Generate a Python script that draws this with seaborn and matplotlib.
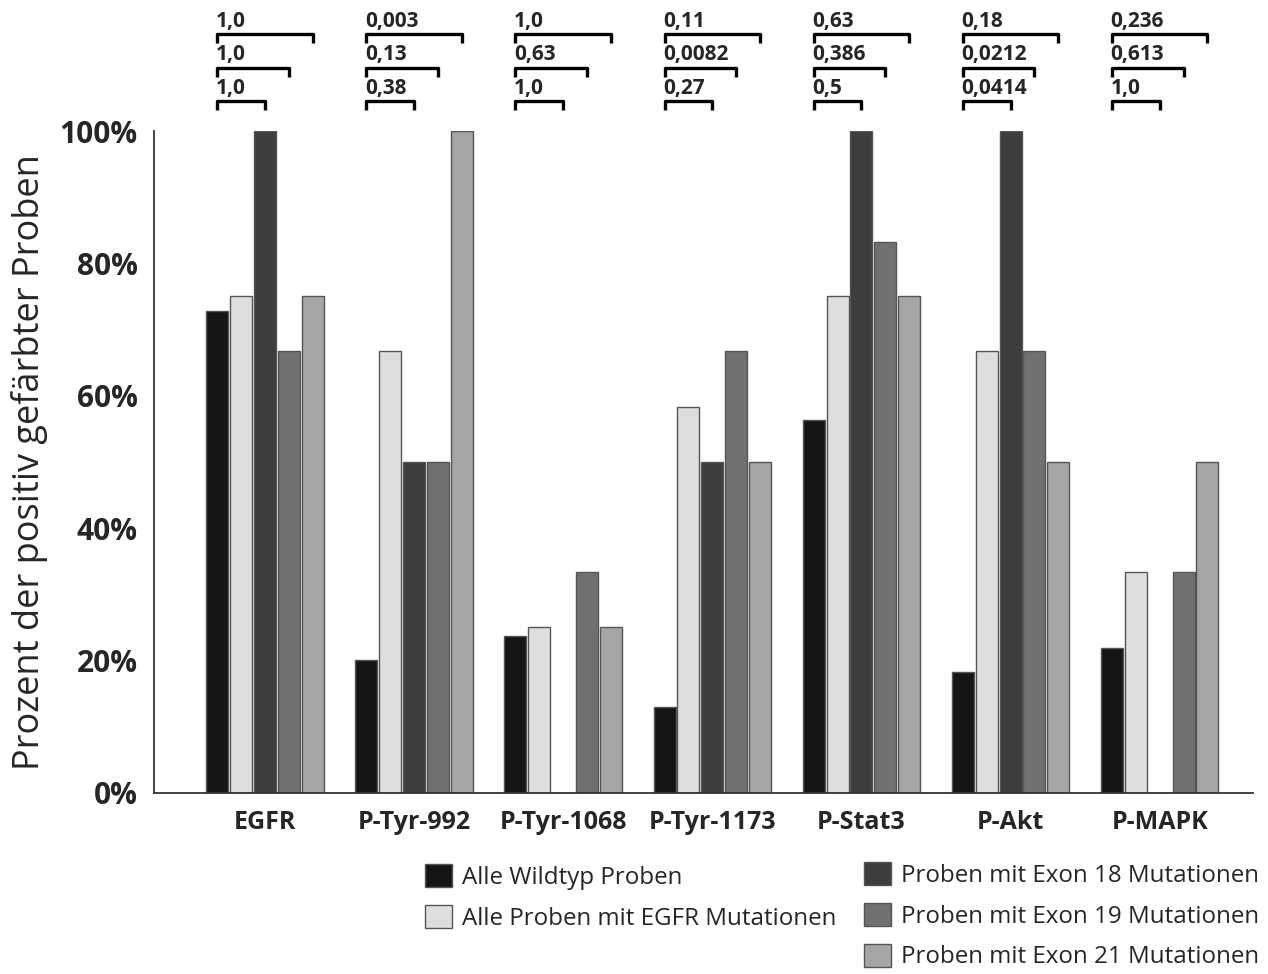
import numpy as np
import pandas as pd
import matplotlib
matplotlib.use("Agg")
import matplotlib.pyplot as plt
import seaborn as sns

# Daten
MARKER = ["EGFR", "P-Tyr-992", "P-Tyr-1068", "P-Tyr-1173", "P-Stat3", "P-Akt", "P-MAPK"]
GRUPPEN = [
    "Alle Wildtyp Proben",
    "Alle Proben mit EGFR Mutationen",
    "Proben mit Exon 18 Mutationen",
    "Proben mit Exon 19 Mutationen",
    "Proben mit Exon 21 Mutationen",
]
wildtyp = [72.8, 20.1, 23.7, 13.0, 56.3, 18.3, 21.9]
egfr_mut = [75.0, 66.7, 25.0, 58.3, 75.0, 66.7, 33.3]
exon18 = [100.0, 50.0, 0.0, 50.0, 100.0, 100.0, 0.0]
exon19 = [66.7, 50.0, 33.3, 66.7, 83.3, 66.7, 33.3]
exon21 = [75.0, 100.0, 25.0, 50.0, 75.0, 50.0, 50.0]

# p-Werte: Wildtyp vs. Exon 21 / Exon 19 / Exon 18
p_exon21 = ["1,0", "0,003", "1,0", "0,11", "0,63", "0,18", "0,236"]
p_exon19 = ["1,0", "0,13", "0,63", "0,0082", "0,386", "0,0212", "0,613"]
p_exon18 = ["1,0", "0,38", "1,0", "0,27", "0,5", "0,0414", "1,0"]

FARBEN = ["#151515", "#dedede", "#3d3d3d", "#707070", "#a5a5a5"]

serien = [wildtyp, egfr_mut, exon18, exon19, exon21]
df = pd.DataFrame({
    "Marker": np.tile(MARKER, len(GRUPPEN)),
    "Gruppe": np.repeat(GRUPPEN, len(MARKER)),
    "Wert": np.concatenate(serien),
})

sns.set_style("white")
plt.rcParams["font.family"] = ["Open Sans", "DejaVu Sans"]

fig = plt.figure(figsize=(12.68, 9.74), dpi=100)
ax = fig.add_axes([0.1215, 0.186, 0.8665, 0.6795])

sns.barplot(data=df, x="Marker", y="Wert", hue="Gruppe", order=MARKER,
            hue_order=GRUPPEN, palette=FARBEN, edgecolor="#555555",
            linewidth=1.0, gap=0.08, ax=ax)

handles, labels = ax.get_legend_handles_labels()
ax.legend_.remove()

ax.set_ylim(0, 100)
ax.set_xlim(-0.743, 6.624)
ax.set_yticks([0, 20, 40, 60, 80, 100])
ax.set_yticklabels(["0%", "20%", "40%", "60%", "80%", "100%"],
                   fontsize=21.5, fontweight="bold")
ax.set_xticks(range(len(MARKER)))
ax.set_xticklabels(MARKER, fontsize=18, fontweight="bold")
ax.tick_params(axis="y", length=0, pad=12)
ax.tick_params(axis="x", length=0, pad=12)
ax.set_xlabel("")
ax.set_ylabel("Prozent der positiv gefärbter Proben", fontsize=26, labelpad=8)

for s in ["top", "right"]:
    ax.spines[s].set_visible(False)
for s in ["left", "bottom"]:
    ax.spines[s].set_color("#333333")
    ax.spines[s].set_linewidth(1.3)

# Signifikanz-Klammern oberhalb der Gruppen
breite = 0.8 / len(GRUPPEN)
reihen = [(114.6, 2, p_exon21), (109.5, 1, p_exon19), (104.5, 0, p_exon18)]
for i in range(len(MARKER)):
    x0 = i - 2 * breite
    for y, k, pw in reihen:
        x1 = i + k * breite
        ax.plot([x0, x0, x1, x1], [y - 1.3, y, y, y - 1.3], color="black",
                lw=2.4, clip_on=False, solid_capstyle="butt")
        ax.text(x0 - 0.01, y + 0.4, pw[i], fontsize=15, fontweight="bold",
                ha="left", va="bottom", clip_on=False)

leg_opts = dict(loc="upper left", frameon=False, fontsize=17.4,
                handlelength=1.1, handleheight=1.1, handletextpad=0.45,
                labelspacing=0.62, borderpad=0, borderaxespad=0)
fig.legend(handles[:2], labels[:2], bbox_to_anchor=(0.3352, 0.1129), **leg_opts)
fig.legend(handles[2:], labels[2:], bbox_to_anchor=(0.6814, 0.115), **leg_opts)

fig.savefig("out.png", dpi=100)
